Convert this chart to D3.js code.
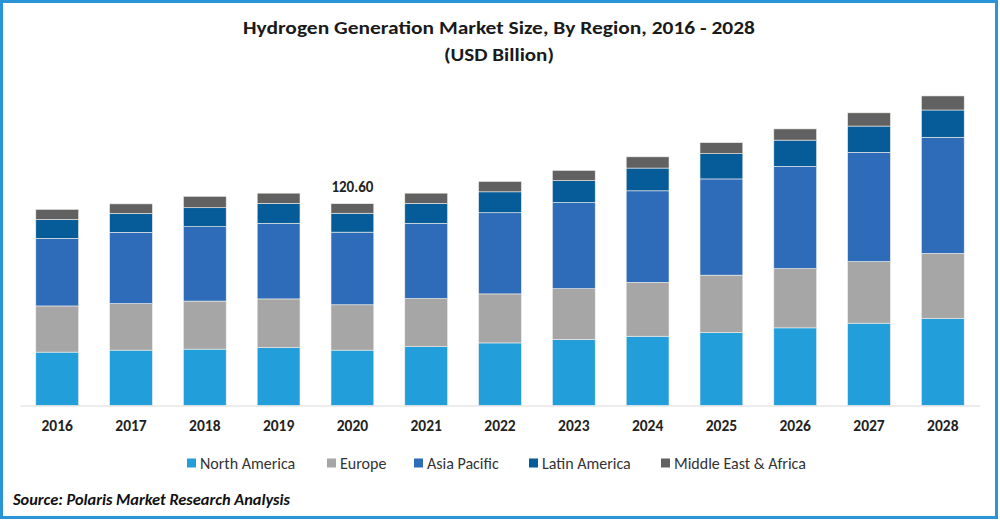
<!DOCTYPE html>
<html>
<head>
<meta charset="utf-8">
<script src="https://cdn.jsdelivr.net/npm/d3@7"></script>
<style>
	body { margin: 0; background: #fff; }
	svg text { font-family: Carlito, 'Liberation Sans Narrow', Lato, 'Open Sans', sans-serif; }
</style>
</head>
<body>
<svg id="chart" width="1000" height="522"></svg>
<script>
// values, USD Billion
const years = ['2016', '2017', '2018', '2019', '2020', '2021', '2022', '2023', '2024', '2025', '2026', '2027', '2028']
const regions = ['North America', 'Europe', 'Asia Pacific', 'Latin America', 'Middle East & Africa']
const northAmerica = [31.9, 33.1, 33.7, 34.6, 33.1, 35.2, 37.4, 39.4, 41.4, 43.6, 46.4, 49.2, 51.9]
const europe = [27.6, 27.8, 28.7, 29.1, 27.1, 28.7, 29.3, 30.4, 32.2, 34.3, 35.4, 36.8, 39.0]
const asiaPacific = [40.4, 42.6, 44.5, 45.2, 43.4, 45.0, 48.5, 51.5, 54.7, 57.5, 61.1, 65.3, 69.4]
const latinAmerica = [11.3, 11.3, 11.3, 11.9, 11.3, 11.9, 12.5, 13.1, 13.6, 15.1, 15.7, 15.7, 16.3]
const middleEastAfrica = [6.0, 5.7, 6.8, 6.1, 5.7, 6.1, 6.2, 6.1, 6.7, 6.6, 6.7, 7.9, 8.4]
const colors = ['#229fdb', '#a6a6a6', '#2e6cb9', '#055c98', '#616161']
const labelYear = '2020'
const labelText = '120.60'

const series = [northAmerica, europe, asiaPacific, latinAmerica, middleEastAfrica]
const rows = years.map((yr, i) => {
	const r = { year: yr }
	regions.forEach((k, j) => { r[k] = series[j][i] })
	return r
})
const stacked = d3.stack().keys(regions)(rows)

const svg = d3.select('#chart')

// outer frame
svg.append('rect')
	.attr('x', 1.5).attr('y', 1.5)
	.attr('width', 995).attr('height', 516)
	.attr('fill', '#fff')
	.attr('stroke', '#2a95d6')
	.attr('stroke-width', 3)

// title
svg.append('text')
	.attr('x', 499).attr('y', 34)
	.attr('text-anchor', 'middle')
	.attr('font-size', 19).attr('font-weight', 'bold').attr('fill', '#1a1a1a')
	.attr('textLength', 512).attr('lengthAdjust', 'spacingAndGlyphs')
	.text('Hydrogen Generation Market Size, By Region, 2016 - 2028')
svg.append('text')
	.attr('x', 499).attr('y', 61)
	.attr('text-anchor', 'middle')
	.attr('font-size', 19).attr('font-weight', 'bold').attr('fill', '#1a1a1a')
	.attr('textLength', 110).attr('lengthAdjust', 'spacingAndGlyphs')
	.text('(USD Billion)')

const x = d3.scaleBand()
	.domain(years)
	.range([20, 980])
	.paddingInner(0.42)
	.paddingOuter(0.214)

const y = d3.scaleLinear()
	.domain([0, 120.6])
	.range([405.5, 203.7])

const g = svg.append('g')

g.selectAll('g.layer')
	.data(stacked)
	.join('g')
	.attr('class', 'layer')
	.attr('fill', (d, i) => colors[i])
	.selectAll('rect')
	.data(d => d)
	.join('rect')
	.attr('x', d => x(d.data.year))
	.attr('width', x.bandwidth())
	.attr('y', d => y(d[1]))
	.attr('height', d => y(d[0]) - y(d[1]))
	.attr('stroke', '#f2efe9')
	.attr('stroke-width', 0.6)

// axis
const axis = svg.append('g')
	.attr('transform', 'translate(0,405.5)')
	.call(d3.axisBottom(x).tickSize(0).tickPadding(14))
axis.select('.domain').attr('stroke', '#d9d9d9').attr('stroke-width', 1.2)
axis.selectAll('text')
	.attr('font-size', 15.5).attr('font-weight', 'bold').attr('fill', '#222')
	.style('font-family', "Carlito, 'Liberation Sans Narrow', Lato, 'Open Sans', sans-serif")

// data label on 2020
const labelTop = stacked[stacked.length - 1][years.indexOf(labelYear)][1]
svg.append('text')
	.attr('x', x(labelYear) + x.bandwidth() / 2)
	.attr('y', y(labelTop) - 12)
	.attr('text-anchor', 'middle')
	.attr('font-size', 15).attr('font-weight', 'bold').attr('fill', '#222')
	.text(labelText)

// legend
const legendX = [187, 327, 414, 529, 661]
const legend = svg.append('g').attr('transform', 'translate(0,463)')
regions.forEach((r, i) => {
	legend.append('rect')
		.attr('x', legendX[i]).attr('y', -4.5)
		.attr('width', 9).attr('height', 9)
		.attr('fill', colors[i])
	legend.append('text')
		.attr('x', legendX[i] + 13).attr('y', 5.5)
		.attr('font-size', 16).attr('fill', '#333')
		.text(r)
})

// source
svg.append('text')
	.attr('x', 13).attr('y', 505)
	.attr('font-size', 15).attr('font-weight', 'bold').attr('font-style', 'italic').attr('fill', '#111')
	.attr('textLength', 277).attr('lengthAdjust', 'spacingAndGlyphs')
	.text('Source: Polaris  Market Research Analysis')
</script>
</body>
</html>
